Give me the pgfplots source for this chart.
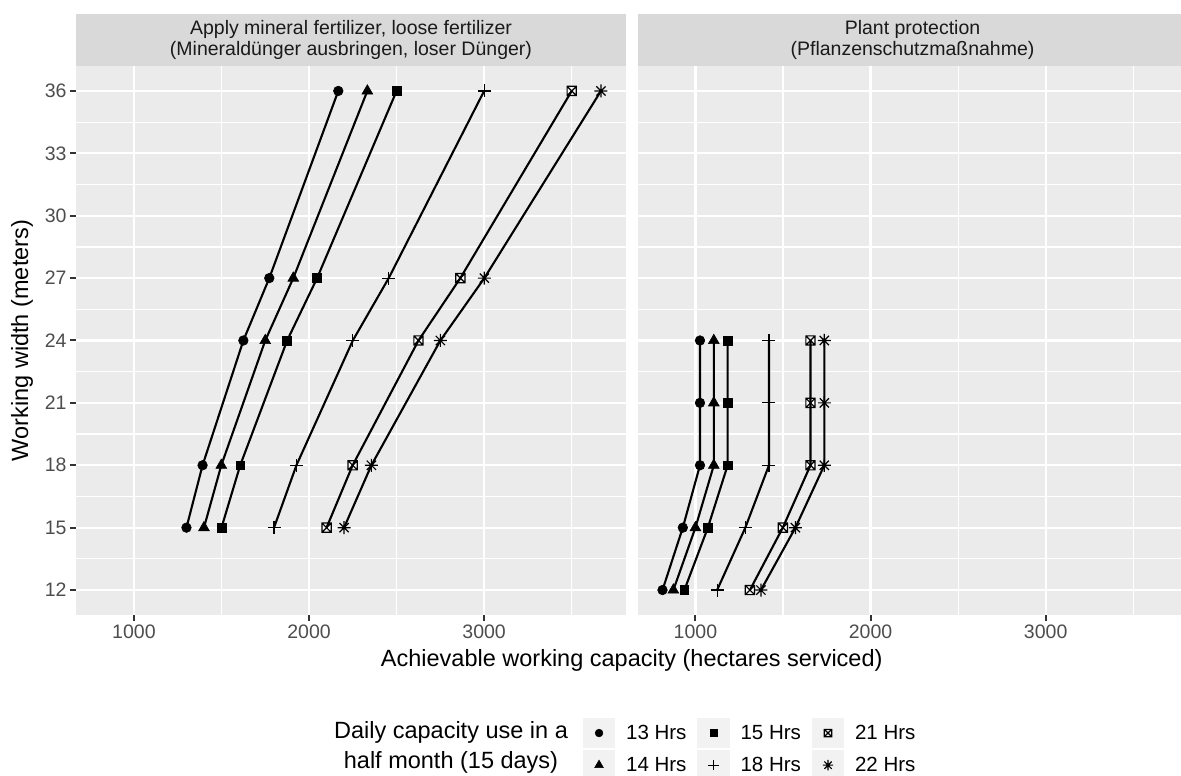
\documentclass[border=0pt]{standalone}
\usepackage{pgfplots}
\pgfplotsset{compat=1.18}
\usepackage{pgfplotstable}
\usepackage{fontspec}
\setmainfont{Liberation Sans}

\definecolor{panelbg}{HTML}{EBEBEB}
\definecolor{stripbg}{HTML}{D9D9D9}
\definecolor{keybg}{HTML}{F2F2F2}
\definecolor{grey30}{HTML}{4D4D4D}
\definecolor{grey20}{HTML}{333333}
\definecolor{grey10}{HTML}{1A1A1A}

% square with a cross inside
\pgfdeclareplotmark{sqx}{%
  \pgfpathrectangle{\pgfqpoint{-\pgfplotmarksize}{-\pgfplotmarksize}}{\pgfqpoint{2\pgfplotmarksize}{2\pgfplotmarksize}}%
  \pgfpathmoveto{\pgfqpoint{-\pgfplotmarksize}{-\pgfplotmarksize}}\pgfpathlineto{\pgfqpoint{\pgfplotmarksize}{\pgfplotmarksize}}%
  \pgfpathmoveto{\pgfqpoint{-\pgfplotmarksize}{\pgfplotmarksize}}\pgfpathlineto{\pgfqpoint{\pgfplotmarksize}{-\pgfplotmarksize}}%
  \pgfusepathqstroke}
% eight-armed asterisk
\pgfdeclareplotmark{ast8}{%
  \pgfpathmoveto{\pgfqpoint{-\pgfplotmarksize}{0pt}}\pgfpathlineto{\pgfqpoint{\pgfplotmarksize}{0pt}}%
  \pgfpathmoveto{\pgfqpoint{0pt}{-\pgfplotmarksize}}\pgfpathlineto{\pgfqpoint{0pt}{\pgfplotmarksize}}%
  \pgfpathmoveto{\pgfqpoint{-0.7071\pgfplotmarksize}{-0.7071\pgfplotmarksize}}\pgfpathlineto{\pgfqpoint{0.7071\pgfplotmarksize}{0.7071\pgfplotmarksize}}%
  \pgfpathmoveto{\pgfqpoint{-0.7071\pgfplotmarksize}{0.7071\pgfplotmarksize}}\pgfpathlineto{\pgfqpoint{0.7071\pgfplotmarksize}{-0.7071\pgfplotmarksize}}%
  \pgfusepathqstroke}

% working width (m) vs. achievable capacity (ha) per daily hours
\pgfplotstableread{
w  h13  h14  h15  h18  h21  h22
15 1300 1400 1500 1800 2100 2200
18 1392 1499 1607 1928 2249 2356
24 1625 1750 1875 2250 2625 2750
27 1773 1910 2046 2455 2864 3001
36 2167 2333 2500 3000 3500 3667
}\fert
\pgfplotstableread{
w  h13  h14  h15  h18  h21  h22
12 812  874  937  1124 1311 1374
15 928  1000 1071 1285 1499 1571
18 1026 1105 1184 1420 1657 1736
21 1026 1105 1184 1420 1657 1736
24 1026 1105 1184 1420 1657 1736
}\prot

\pgfplotsset{
  panel/.style={
    scale only axis, width=550pt, height=549pt,
    xmin=669.25, xmax=3810, ymin=10.8, ymax=37.2,
    axis background/.style={fill=panelbg},
    axis line style={draw=none},
    xtick={1000,2000,3000}, xticklabels={1000,2000,3000},
    minor xtick={1500,2500,3500},
    ytick={12,15,...,36}, yticklabels={12,15,18,21,24,27,30,33,36},
    minor ytick={13.5,16.5,...,34.5},
    grid=both,
    major grid style={white, line width=2.3pt},
    minor grid style={white, line width=1.2pt},
    tick align=outside, tick pos=left,
    major tick length=6pt, minor tick length=0pt,
    tick style={grey20, line width=2pt},
    tick label style={font=\fontsize{19.5}{20}\selectfont, text=grey30},
    /pgf/number format/assume math mode=true,
  },
  ser/.style={black, line width=2.1pt, mark options={solid, fill=black, line width=0.6pt}},
  s13/.style={ser, mark=*, mark size=4.8pt},
  s14/.style={ser, mark=triangle*, mark size=6.2pt},
  s15/.style={ser, mark=square*, mark size=4.4pt},
  s18/.style={ser, mark=+, mark size=6.5pt, mark options={solid, line width=1.2pt}},
  s21/.style={ser, mark=sqx, mark size=4.6pt, mark options={solid, line width=1.2pt, fill=none}},
  s22/.style={ser, mark=ast8, mark size=6.5pt, mark options={solid, line width=1.2pt}},
}

\begin{document}
\begin{tikzpicture}
% fertilizer panel
\begin{axis}[panel, at={(76pt,161pt)}, anchor=south west,
  legend columns=3,
  legend image code/.code={
    \fill[keybg] (0pt,-14pt) rectangle (30pt,14pt);
    \draw[#1, only marks, every mark/.append style={scale=0.8}] plot coordinates {(15pt,0pt)};
  },
  legend style={at={(0.92182,-0.18761)}, anchor=north west,
    draw=none, fill=none, inner sep=0pt, outer sep=0pt, row sep=2pt,
    nodes={inner sep=0pt, font=\fontsize{20.5}{21}\selectfont, text=black},
    /tikz/every odd column/.append style={column sep=11pt},
    /tikz/every even column/.append style={column sep=11pt}},
]
\addplot[s13] table[x=h13, y=w] {\fert}; \addlegendentry{13 Hrs}
\addplot[s15] table[x=h15, y=w] {\fert}; \addlegendentry{15 Hrs}
\addplot[s21] table[x=h21, y=w] {\fert}; \addlegendentry{21 Hrs}
\addplot[s14] table[x=h14, y=w] {\fert}; \addlegendentry{14 Hrs}
\addplot[s18] table[x=h18, y=w] {\fert}; \addlegendentry{18 Hrs}
\addplot[s22] table[x=h22, y=w] {\fert}; \addlegendentry{22 Hrs}
\end{axis}
% plant protection panel
\begin{axis}[panel, at={(637.5pt,161pt)}, anchor=south west,
  yticklabels={}, ytick style={draw=none}]
\addplot[s13] table[x=h13, y=w] {\prot};
\addplot[s14] table[x=h14, y=w] {\prot};
\addplot[s15] table[x=h15, y=w] {\prot};
\addplot[s18] table[x=h18, y=w] {\prot};
\addplot[s21] table[x=h21, y=w] {\prot};
\addplot[s22] table[x=h22, y=w] {\prot};
\end{axis}
% facet strips
\fill[stripbg] (76pt,710pt) rectangle (626pt,762pt);
\fill[stripbg] (637.5pt,710pt) rectangle (1187.5pt,762pt);
\node[align=center, text=grey10, font=\fontsize{19.5}{20.5}\selectfont] at (351pt,736pt)
  {Apply mineral fertilizer, loose fertilizer\\(Mineraldünger ausbringen, loser Dünger)};
\node[align=center, text=grey10, font=\fontsize{19.5}{20.5}\selectfont] at (912.5pt,736pt)
  {Plant protection\\(Pflanzenschutzmaßnahme)};
% axis titles
\node[rotate=90, font=\fontsize{23.5}{24}\selectfont] at (22pt,435.5pt) {Working width (meters)};
\node[font=\fontsize{23.5}{24}\selectfont] at (631.75pt,116pt) {Achievable working capacity (hectares serviced)};
% legend title
\node[align=center, font=\fontsize{23.5}{30}\selectfont] at (451pt,29pt) {Daily capacity use in a\\half month (15 days)};
\pgfresetboundingbox
\useasboundingbox (0pt,0pt) rectangle (1181pt,776pt);
\end{tikzpicture}
\end{document}
